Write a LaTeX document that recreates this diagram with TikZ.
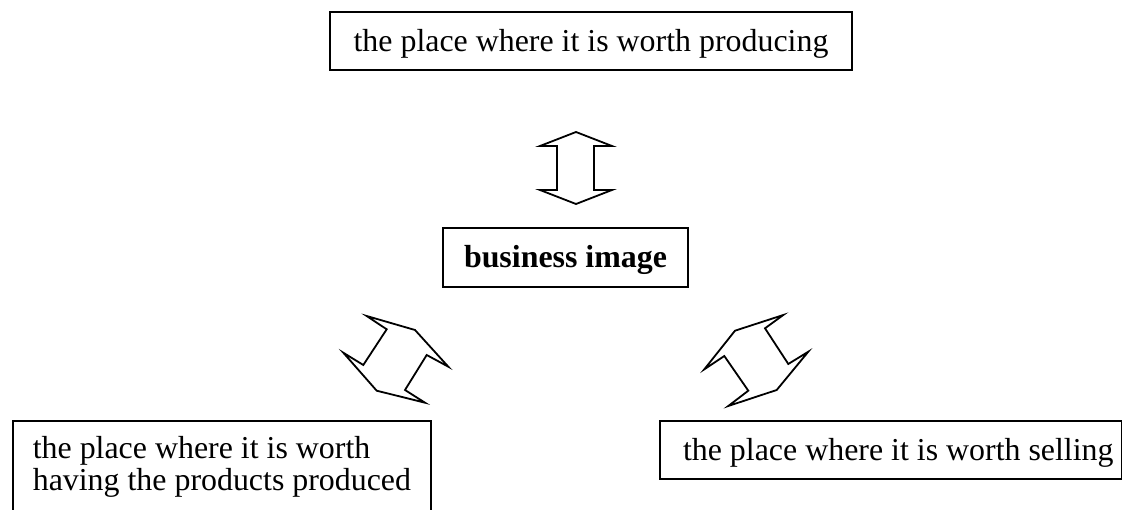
\documentclass[tikz,border=0pt]{standalone}
\usepackage{fontspec}
\setmainfont{Liberation Serif}
\begin{document}
\begin{tikzpicture}[x=1pt,y=-1pt,
  basebox/.style={draw, line width=1.6pt, font=\fontsize{31.9}{32}\selectfont},
  box/.style={basebox, inner sep=0pt, text height=25pt, text depth=4pt},
  arr/.style={draw, line width=1.8pt, line join=miter}]
\useasboundingbox (0,0) rectangle (1122,510);
\node[box, minimum width=522pt, minimum height=58pt] (top) at (591,41) {the place where it is worth producing};
\node[box, minimum width=245pt, minimum height=59pt, font=\fontsize{31.9}{32}\selectfont\bfseries] (biz) at (565.5,257.5) {business image};
\node[basebox, anchor=north west, align=left, inner xsep=20pt, inner ysep=16pt] (left) at (12,420) {the place where it is worth\\having the products produced};
\node[box, anchor=north west, minimum height=58pt, minimum width=462pt] (right) at (659,420) {\hspace*{15pt}the place where it is worth selling};
% vertical double arrow
\draw[arr] (576,132) -- (612,146) -- (594,146) -- (594,190) -- (612,190) -- (576,204) -- (540,190) -- (557,190) -- (557,146) -- (540,146) -- cycle;
% left diagonal double arrow
\draw[arr] (366.7,316) -- (415,330) -- (448.3,366.7) -- (426.7,355) -- (405,390) -- (425,402.7) -- (376.7,390.7) -- (343.3,352.7) -- (363.3,365) -- (386.7,329.3) -- cycle;
% right diagonal double arrow
\draw[arr] (783.3,315) -- (735,330.7) -- (704.3,369.3) -- (724.3,356) -- (748.3,390.7) -- (728.3,406) -- (776.7,390) -- (808.3,351.7) -- (788.3,364) -- (765,328.3) -- cycle;
\end{tikzpicture}
\end{document}
